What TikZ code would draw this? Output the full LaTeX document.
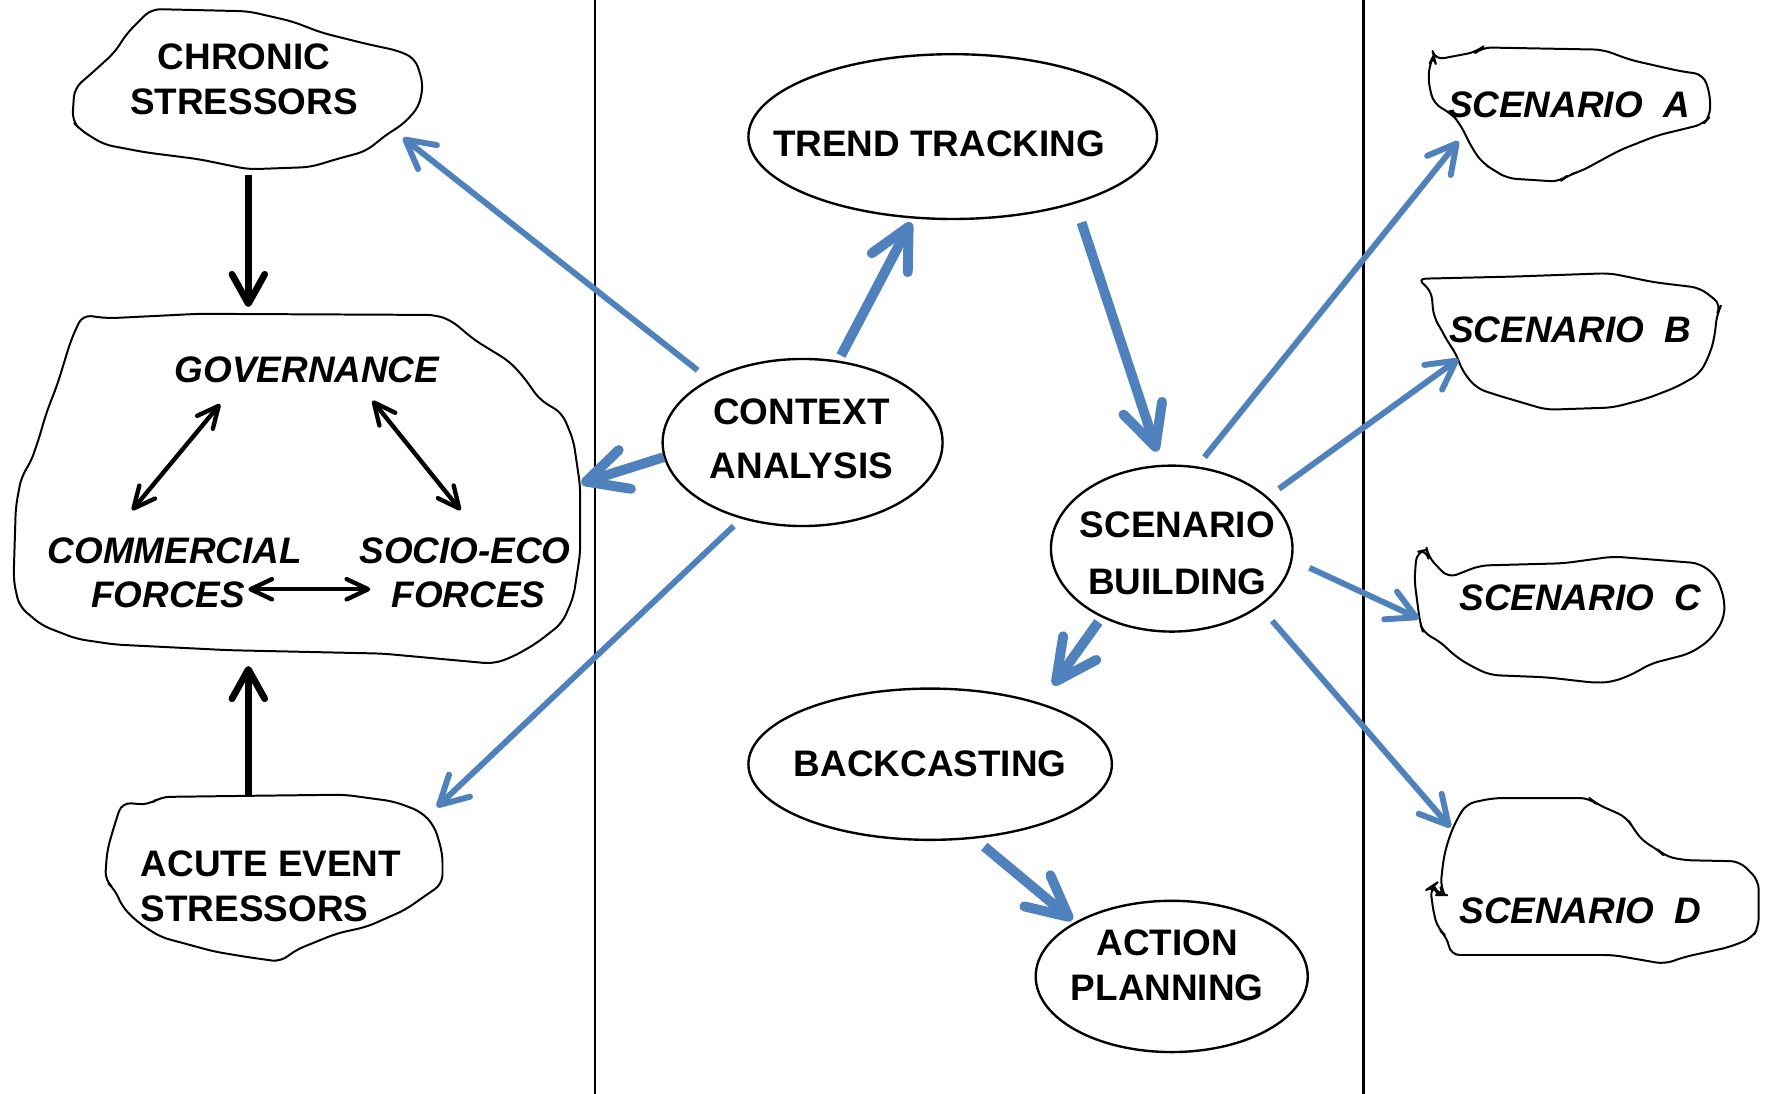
\documentclass[tikz,border=0pt]{standalone}
\usepackage{fontspec}
\setmainfont{Liberation Sans}
\usetikzlibrary{arrows.meta,shapes.geometric}
\definecolor{flowblue}{RGB}{79,129,189}

\begin{document}
\begin{tikzpicture}[x=0.1mm, y=-0.1mm,
    blob/.style={draw, line width=0.5pt, line join=round, rounded corners=0.8mm},
    proc/.style={draw, ellipse, line width=0.6pt, inner sep=0pt},
    lbl/.style={font=\bfseries\fontsize{9.3}{11.4}\selectfont, align=center, inner sep=0pt},
    ilbl/.style={font=\bfseries\itshape\fontsize{9.3}{11.1}\selectfont, align=center, inner sep=0pt},
    flow/.style={flowblue, line width=1.5pt, -{Straight Barb[length=2.5mm,width=2.7mm,round]}},
    bigflow/.style={flowblue, line width=2.5pt, -{Straight Barb[length=3.6mm,width=3.6mm,round]}},
    push/.style={line width=1.7pt, -{Straight Barb[length=2.6mm,width=2.9mm,round]}},
    link/.style={line width=1.1pt, {Straight Barb[length=1.9mm,width=1.8mm,round]}-{Straight Barb[length=1.9mm,width=1.8mm,round]}}]
    \useasboundingbox (0,0) rectangle (1568,969);

    % Column dividers
    \draw[line width=0.6pt] (527,0) -- (527,969);
    \draw[line width=0.6pt] (1208,0) -- (1208,969);

    % Stressor blobs (left column)
    \draw[blob] (134,8) -- (220,10) -- (259,19) -- (285,29) -- (325,39) -- (353,45) -- (368,52) -- (375,75)
        -- (371,95) -- (356,111) -- (344,118) -- (324,134) -- (298,141) -- (275,148) -- (220,150) -- (176,141)
        -- (129,135) -- (92,128) -- (71,115) -- (64,107) -- (66,78) -- (80,66) -- (102,46) -- (112,30) -- cycle;
    \draw[blob] (73,279) -- (95,282) -- (176,278) -- (386,279) -- (400,284) -- (420,301) -- (451,320) -- (464,334)
        -- (478,354) -- (498,366) -- (508,390) -- (514,431) -- (514,490) -- (508,529) -- (498,552) -- (475,570)
        -- (454,582) -- (437,588) -- (339,579) -- (203,576) -- (102,571) -- (68,566) -- (37,554) -- (17,537)
        -- (12,514) -- (14,449) -- (19,422) -- (27,410) -- (34,390) -- (41,366) -- (51,340) -- (63,301) -- cycle;
    \draw[blob] (108,711) -- (132,713) -- (142,706) -- (220,705) -- (305,704) -- (349,710) -- (373,719) -- (385,732)
        -- (392,756) -- (392,783) -- (376,794) -- (359,806) -- (325,821) -- (298,827) -- (261,842) -- (249,852)
        -- (220,848) -- (190,843) -- (142,830) -- (122,817) -- (108,803) -- (102,788) -- (93,780) -- (95,753)
        -- (102,729) -- cycle;

    % Scenario blobs (right column)
    \draw[blob] (1270,49) -- (1271,53) -- (1308,46) -- (1313,42) -- (1420,44) -- (1444,53) -- (1488,63) -- (1509,66)
        -- (1515,84) -- (1515,103) -- (1509,110) -- (1468,120) -- (1435,133) -- (1400,152) -- (1389,155) -- (1382,161)
        -- (1335,158) -- (1324,151) -- (1314,145) -- (1305,133) -- (1293,109) -- (1285,100) -- (1270,92) -- (1265,71)
        -- (1267,55) -- cycle;
    \draw[blob] (1255,247) -- (1268,257) -- (1270,281) -- (1277,292) -- (1283,304) -- (1290,313) -- (1295,328)
        -- (1308,344) -- (1326,350) -- (1370,363) -- (1429,361) -- (1459,353) -- (1485,343) -- (1506,331) -- (1515,313)
        -- (1519,298) -- (1521,278) -- (1525,270) -- (1506,255) -- (1465,250) -- (1426,242) -- (1341,245) -- cycle;
    \draw[blob] (1255,489) -- (1264,487) -- (1265,493) -- (1283,512) -- (1311,501) -- (1385,499) -- (1429,493)
        -- (1506,499) -- (1521,511) -- (1528,532) -- (1527,549) -- (1515,567) -- (1497,579) -- (1462,588) -- (1447,597)
        -- (1429,604) -- (1414,605) -- (1370,600) -- (1320,598) -- (1305,591) -- (1290,582) -- (1274,567) -- (1261,561)
        -- (1258,552) -- (1253,514) -- cycle;
    \draw[blob] (1299,712) -- (1323,707) -- (1408,707) -- (1414,712) -- (1441,724) -- (1447,734) -- (1456,746)
        -- (1468,752) -- (1474,758) -- (1491,762) -- (1541,763) -- (1558,780) -- (1558,821) -- (1552,831) -- (1532,839)
        -- (1491,848) -- (1475,854) -- (1429,846) -- (1285,846) -- (1282,830) -- (1274,823) -- (1270,809) -- (1267,786)
        -- (1270,784) -- (1274,793) -- (1280,793) -- (1276,786) -- (1279,759) -- (1284,741) -- (1290,727) -- cycle;

    % Blob texts
    \node[lbl] (chronT) at (216,70) {CHRONIC\\STRESSORS};
    \node[ilbl] (govT) at (272,328) {GOVERNANCE};
    \node[ilbl] (comT) at (155,507) {COMMERCIAL\\FORCES\kern1.2mm};
    \node[ilbl] (socT) at (412,507) {SOCIO-ECO\\\kern0.6mm FORCES};
    \node[lbl, align=left] (acuteT) at (240,785) {ACUTE EVENT\\STRESSORS};
    \node[ilbl] (scA) at (1390,93) {SCENARIO~~A};
    \node[ilbl] (scB) at (1391,292) {SCENARIO~~B};
    \node[ilbl] (scC) at (1400,530) {SCENARIO~~C};
    \node[ilbl] (scD) at (1400,807) {SCENARIO~~D};

    % Process ellipses
    \node[proc, minimum width=36.2mm, minimum height=14.6mm] (trend) at (844,121) {};
    \node[proc, minimum width=24.8mm, minimum height=14.8mm] (ctx) at (711,392) {};
    \node[proc, minimum width=21.4mm, minimum height=14.7mm] (scb) at (1038,486) {};
    \node[proc, minimum width=32.2mm, minimum height=13.4mm] (back) at (824,677) {};
    \node[proc, minimum width=24.1mm, minimum height=13.4mm] (act) at (1038,865) {};
    \node[lbl] (trendT) at (832,127) {TREND TRACKING};
    \node[lbl, font=\bfseries\fontsize{9.3}{13.6}\selectfont] (ctxT) at (710,389) {CONTEXT\\ANALYSIS};
    \node[lbl, font=\bfseries\fontsize{9.3}{14.5}\selectfont] (scbT) at (1043,490) {SCENARIO\\BUILDING};
    \node[lbl] (backT) at (824,677) {BACKCASTING};
    \node[lbl] (actT) at (1034,855) {ACTION\\PLANNING};

    % Stressors acting on governance
    \draw[push] ([shift={(4,85)}]chronT.center) -- ([shift={(-52,-56)}]govT.center);
    \draw[push] ([shift={(-20,-80)}]acuteT.center) -- ([shift={(-52,262)}]govT.center);
    \draw[link] ([shift={(-77,30)}]govT.center) -- ([shift={(-38,-55)}]comT.center);
    \draw[link] ([shift={(58,27)}]govT.center) -- ([shift={(-4,-55)}]socT.center);
    \draw[link] ([shift={(65,15)}]comT.center) -- ([shift={(-84,15)}]socT.center);

    % Context analysis
    \draw[flow] ([shift={(-93,-64)}]ctx.center) -- ([shift={(141,52)}]chronT.center);
    \draw[bigflow] ([shift={(-123,13)}]ctx.center) -- ([shift={(243,100)}]govT.center);
    \draw[flow] ([shift={(-61,74)}]ctx.center) -- ([shift={(147,-70)}]acuteT.center);
    \draw[bigflow] ([shift={(34,-77)}]ctx.center) -- ([shift={(-37,76)}]trend.center);
    \draw[bigflow] ([shift={(114,76)}]trend.center) -- ([shift={(-13,-86)}]scb.center);

    % Scenario building
    \draw[flow] ([shift={(29,-81)}]scb.center) -- ([shift={(-98,32)}]scA.center);
    \draw[flow] ([shift={(95,-53)}]scb.center) -- ([shift={(-99,26)}]scB.center);
    \draw[flow] ([shift={(122,17)}]scb.center) -- ([shift={(-143,18)}]scC.center);
    \draw[flow] ([shift={(89,64)}]scb.center) -- ([shift={(-115,-74)}]scD.center);
    \draw[bigflow] ([shift={(-65,65)}]scb.center) -- ([shift={(109,-70)}]back.center);
    \draw[bigflow] ([shift={(48,73)}]back.center) -- ([shift={(-88,-50)}]act.center);

\end{tikzpicture}
\end{document}
